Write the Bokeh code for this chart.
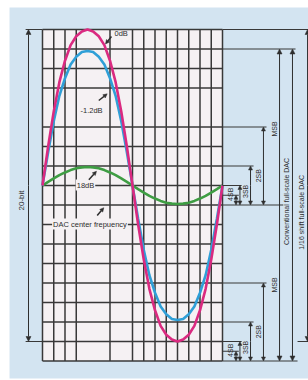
import math
from bokeh.plotting import figure
from bokeh.models import Range1d, Label, Arrow, NormalHead
from bokeh.embed import file_html
from bokeh.resources import INLINE

# ---------------- data (x in grid columns, y in grid rows; 8 rows = full scale) -------------
cols = [i * 0.5 for i in range(33)]
wave_0db = [0, 2.0, 3.8, 5.3, 6.4, 7.2, 7.65, 7.9, 8.0, 7.9, 7.65, 7.2, 6.4, 5.3, 3.8, 2.0, 0,
            -2.0, -3.8, -5.3, -6.4, -7.2, -7.65, -7.9, -8.0, -7.9, -7.65, -7.2, -6.4, -5.3, -3.8, -2.0, 0]
wave_m12db = [0, 1.7, 3.3, 4.6, 5.5, 6.2, 6.6, 6.85, 6.9, 6.85, 6.6, 6.2, 5.5, 4.6, 3.3, 1.7, 0,
              -1.7, -3.3, -4.6, -5.5, -6.2, -6.6, -6.85, -6.9, -6.85, -6.6, -6.2, -5.5, -4.6, -3.3, -1.7, 0]
wave_18db = [0, 0.19, 0.36, 0.53, 0.67, 0.79, 0.88, 0.93, 0.95, 0.93, 0.88, 0.79, 0.67, 0.53, 0.36, 0.19, 0,
             -0.19, -0.36, -0.53, -0.67, -0.79, -0.88, -0.93, -0.95, -0.93, -0.88, -0.79, -0.67, -0.53, -0.36, -0.19, 0]
wave_labels = ["0dB", "-1.2dB", "18dB"]
center_label = "DAC center frepuency"
range_label = "20-bit"
bit_labels = ["MSB", "2SB", "3SB", "4SB"]
bit_heights = [4, 2, 1, 0.5]          # rows above baseline
dac_baselines = [-1, -9]              # shifted DAC zero / conventional DAC zero
dac_labels = ["Conventional full-scale DAC", "1/16 shift full-scale DAC"]
grid_cols = [0, 1, 2, 3, 6, 8, 9, 10, 11, 12, 13, 14, 15, 16]
grid_rows = [8, 7, 6, 5, 3, 2, 1, 0, -1, -2, -3, -4, -5, -6, -7, -8, -9]

# ---------------- styles ----------------
BG = "#d3e4f1"
CELL = "#f5f1f3"
GRID = "#383838"
INK = "#2e2e2e"
MAG = "#da2a80"
CYA = "#2f9fd7"
GRN = "#3e9d43"
FONT = "Liberation Sans"

X0, X1 = -3.733, 23.644
Y0, Y1 = -10.0, 9.487
p = figure(width=308, height=380, x_range=Range1d(X0, X1), y_range=Range1d(Y0, Y1),
           output_backend="svg", toolbar_location=None, min_border=0,
           x_axis_location=None, y_axis_location=None)
p.grid.visible = False
p.background_fill_color = "white"
p.border_fill_color = "white"
p.outline_line_color = None

# blue panel (white strip at top and left as in the scanned page)
p.quad(left=[-2.93], right=[X1 + 1], bottom=[Y0 + 0.1], top=[Y1 - 0.36], fill_color=BG, line_color=None)

# grid area
p.quad(left=[0], right=[16], bottom=[min(grid_rows)], top=[max(grid_rows)], fill_color=CELL, line_color=None)
p.segment(x0=grid_cols, x1=grid_cols, y0=[min(grid_rows)] * len(grid_cols), y1=[max(grid_rows)] * len(grid_cols),
          line_color=GRID, line_width=1.5)
p.segment(x0=[0] * len(grid_rows), x1=[16] * len(grid_rows), y0=grid_rows, y1=grid_rows,
          line_color=GRID, line_width=1.5)

# waves
p.line(cols, wave_18db, line_color=GRN, line_width=2.6)
p.line(cols, wave_m12db, line_color=CYA, line_width=2.6)
p.line(cols, wave_0db, line_color=MAG, line_width=2.6)


def arrow(x0, y0, x1, y1, both=False, size=5, lw=1.0):
    head = dict(size=size, fill_color=INK, line_color=INK, line_width=0.5)
    p.add_layout(Arrow(x_start=x0, y_start=y0, x_end=x1, y_end=y1,
                       end=NormalHead(**head), start=NormalHead(**head) if both else None,
                       line_color=INK, line_width=lw))


def label(x, y, text, size="7px", angle=0.0, align="center", bg=None):
    kw = {}
    if bg:
        kw = dict(background_fill_color=bg, padding=1)
    p.add_layout(Label(x=x, y=y, text=text, angle=angle, text_align=align, text_baseline="middle",
                       text_font=FONT, text_font_size=size, text_color=INK, **kw))


# left 20-bit range
top, bot = max(grid_rows), -8
p.segment(x0=[-1.5, -1.5], x1=[0, 0], y0=[top, bot], y1=[top, bot], line_color=GRID, line_width=1.2)
arrow(-1.244, 0, -1.244, top)
arrow(-1.244, 0, -1.244, bot)
label(-1.9, -0.77, range_label, size="8px", angle=math.pi / 2)

# right side extension lines
ext_y = [8, 7, -1, -9, -8]
ext_x0 = [16, 16, 16, 16, 22.67]
ext_x1 = [23.7, 22.49, 21.4, 22.67, 23.7]
p.segment(x0=ext_x0, x1=ext_x1, y0=ext_y, y1=ext_y, line_color=GRID, line_width=1.2)

bit_arrow_x = [19.64, 18.49, 17.55, 17.2]
bit_line_end = [19.91, 18.76, 17.7, 17.45]
bit_label_x = [20.6, 19.2, 18.05, 16.7]
bit_label_dy = [3.9, 1.5, 0.7, 0.55]
for base in dac_baselines:
    for lab, h, ax, le, lx, dy in zip(bit_labels, bit_heights, bit_arrow_x, bit_line_end, bit_label_x, bit_label_dy):
        p.segment(x0=[16], x1=[le], y0=[base + h], y1=[base + h], line_color=GRID, line_width=1.2)
        arrow(ax, base + h / 2, ax, base + h, size=4)
        arrow(ax, base + h / 2, ax, base, size=4)
        label(lx, base + dy, lab, angle=math.pi / 2)

# full-scale arrows
for xa in [21.07, 22.22]:
    arrow(xa, -1, xa, 7)
    arrow(xa, -1, xa, -9)
arrow(23.56, 0, 23.56, 8)
arrow(23.56, 0, 23.56, -8)
label(21.7, -0.82, dac_labels[0], angle=math.pi / 2)
label(23.0, -1.38, dac_labels[1], angle=math.pi / 2)

# curve labels with leader arrows
label(6.4, 7.8, wave_labels[0], size="7.5px", align="left")
arrow(6.13, 7.64, 5.6, 7.26, size=4, lw=1.5)
label(4.36, 3.85, wave_labels[1], size="7.5px")
arrow(5.0, 4.36, 5.75, 4.7, size=4, lw=1.5)
label(3.82, 0.02, wave_labels[2], size="7.5px", bg=CELL)
arrow(4.12, 0.3, 4.8, 0.73, size=4, lw=1.5)
label(4.22, -1.98, center_label, size="7.5px", bg=CELL)
arrow(4.86, -1.54, 5.45, -1.14, size=4, lw=1.5)

open("out.html", "w").write(file_html(p, INLINE, title="DAC"))
